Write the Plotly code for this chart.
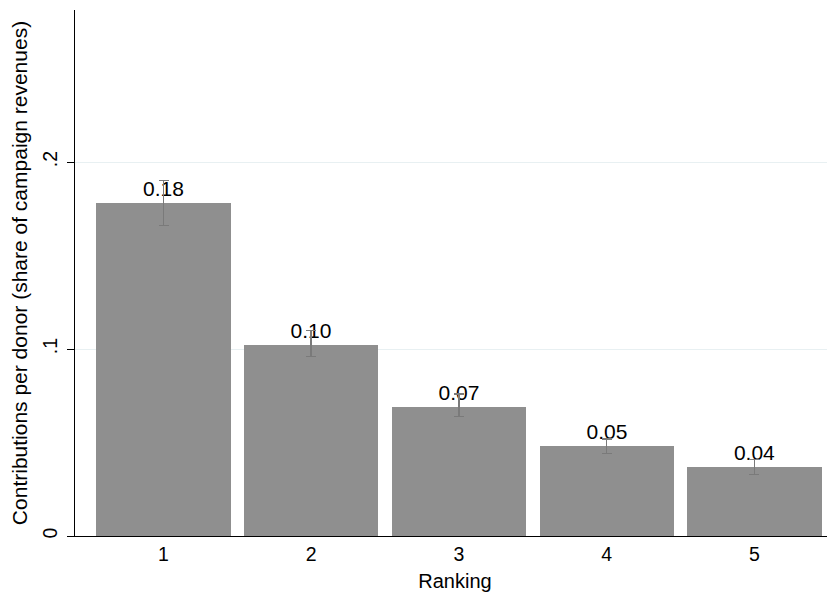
import plotly.graph_objects as go

ranking = [1, 2, 3, 4, 5]
share = [0.178, 0.102, 0.069, 0.048, 0.037]
ci_upper = [0.190, 0.110, 0.076, 0.052, 0.041]
ci_lower = [0.166, 0.096, 0.064, 0.044, 0.033]
labels = ["0.18", "0.10", "0.07", "0.05", "0.04"]
ytick_vals = [0, 0.1, 0.2]
ytick_text = ["0", ".1", ".2"]

err_plus = [u - v for u, v in zip(ci_upper, share)]
err_minus = [v - l for v, l in zip(share, ci_lower)]

fig = go.Figure()
fig.add_trace(go.Bar(
    x=ranking, y=share, width=0.91,
    marker=dict(color="#8f8f8f", line=dict(width=0)),
    error_y=dict(type="data", symmetric=False, array=err_plus, arrayminus=err_minus,
                 color="#7a7a7a", thickness=1.5, width=5),
    text=labels, textposition="outside", cliponaxis=False,
    textfont=dict(family="Liberation Sans, Arial", size=21, color="black"),
))

fig.update_layout(
    width=827, height=591,
    margin=dict(l=67, r=0, t=2, b=63),
    paper_bgcolor="white", plot_bgcolor="white",
    showlegend=False, bargap=0,
    font=dict(family="Liberation Sans, Arial", size=19, color="black"),
)
fig.update_xaxes(
    range=[0.401, 5.545], tickvals=ranking, ticktext=[str(r) for r in ranking],
    showline=True, linecolor="black", linewidth=1.2, ticks="", showgrid=False,
    zeroline=False, tickfont=dict(size=19.5), automargin=False,
    title=dict(text="Ranking", font=dict(size=20), standoff=10),
)
fig.update_yaxes(
    range=[0, 0.2813], tickvals=ytick_vals, ticktext=ytick_text, tickangle=-90,
    showline=True, linecolor="black", linewidth=1.2, ticks="outside", ticklen=7,
    tickcolor="black", showgrid=True, gridcolor="#e8f0f2", gridwidth=1,
    zeroline=False, tickfont=dict(size=19.5), automargin=False, ticklabelstandoff=2,
    title=dict(text="Contributions per donor (share of campaign revenues)", font=dict(size=21), standoff=6),
)

fig.write_html("out.html")
